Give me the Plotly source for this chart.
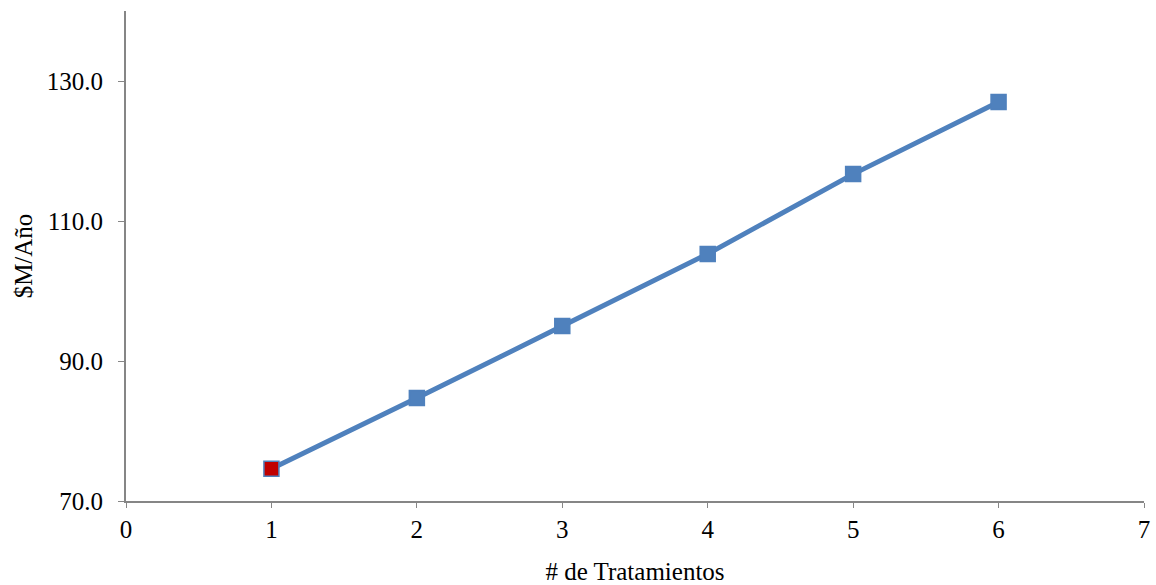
import plotly.graph_objects as go

tratamientos = [1, 2, 3, 4, 5, 6]
costo = [74.6, 84.7, 95.0, 105.3, 116.7, 127.0]
x_ticks = [0, 1, 2, 3, 4, 5, 6, 7]
y_ticks = [70, 90, 110, 130]

blue = "#4F81BD"
fill_colors = ["#C00000"] + [blue] * (len(tratamientos) - 1)

fig = go.Figure()
fig.add_trace(go.Scatter(
    x=tratamientos, y=costo, mode="lines+markers",
    line=dict(color=blue, width=5),
    marker=dict(symbol="square", size=15, color=fill_colors,
                line=dict(color=blue, width=1.5)),
    showlegend=False,
))

fam = "Liberation Serif, Times New Roman, serif"
axis_font = dict(family=fam, size=25, color="black")
fig.update_layout(
    width=1156, height=585,
    margin=dict(l=126, r=12, t=11, b=84),
    paper_bgcolor="white", plot_bgcolor="white",
    font=axis_font,
    xaxis=dict(range=[0, 7], tickvals=x_ticks, ticks="outside", ticklen=5,
               tickcolor="#868686", showline=True, linecolor="#868686", linewidth=2,
               showgrid=False, zeroline=False, tickfont=axis_font, automargin=False,
               title=dict(text="# de Tratamientos", font=dict(family=fam, size=25, color="black"), standoff=20)),
    yaxis=dict(range=[70, 140], tickvals=y_ticks, tickformat=".1f", ticks="outside", ticklen=6,
               tickcolor="#868686", showline=True, linecolor="#868686", linewidth=2,
               ticklabelstandoff=10,
               showgrid=False, zeroline=False, tickfont=axis_font, automargin=False,
               title=dict(text="$M/Año", font=dict(family=fam, size=25, color="black"), standoff=7)),
)

fig.write_html("out.html")
